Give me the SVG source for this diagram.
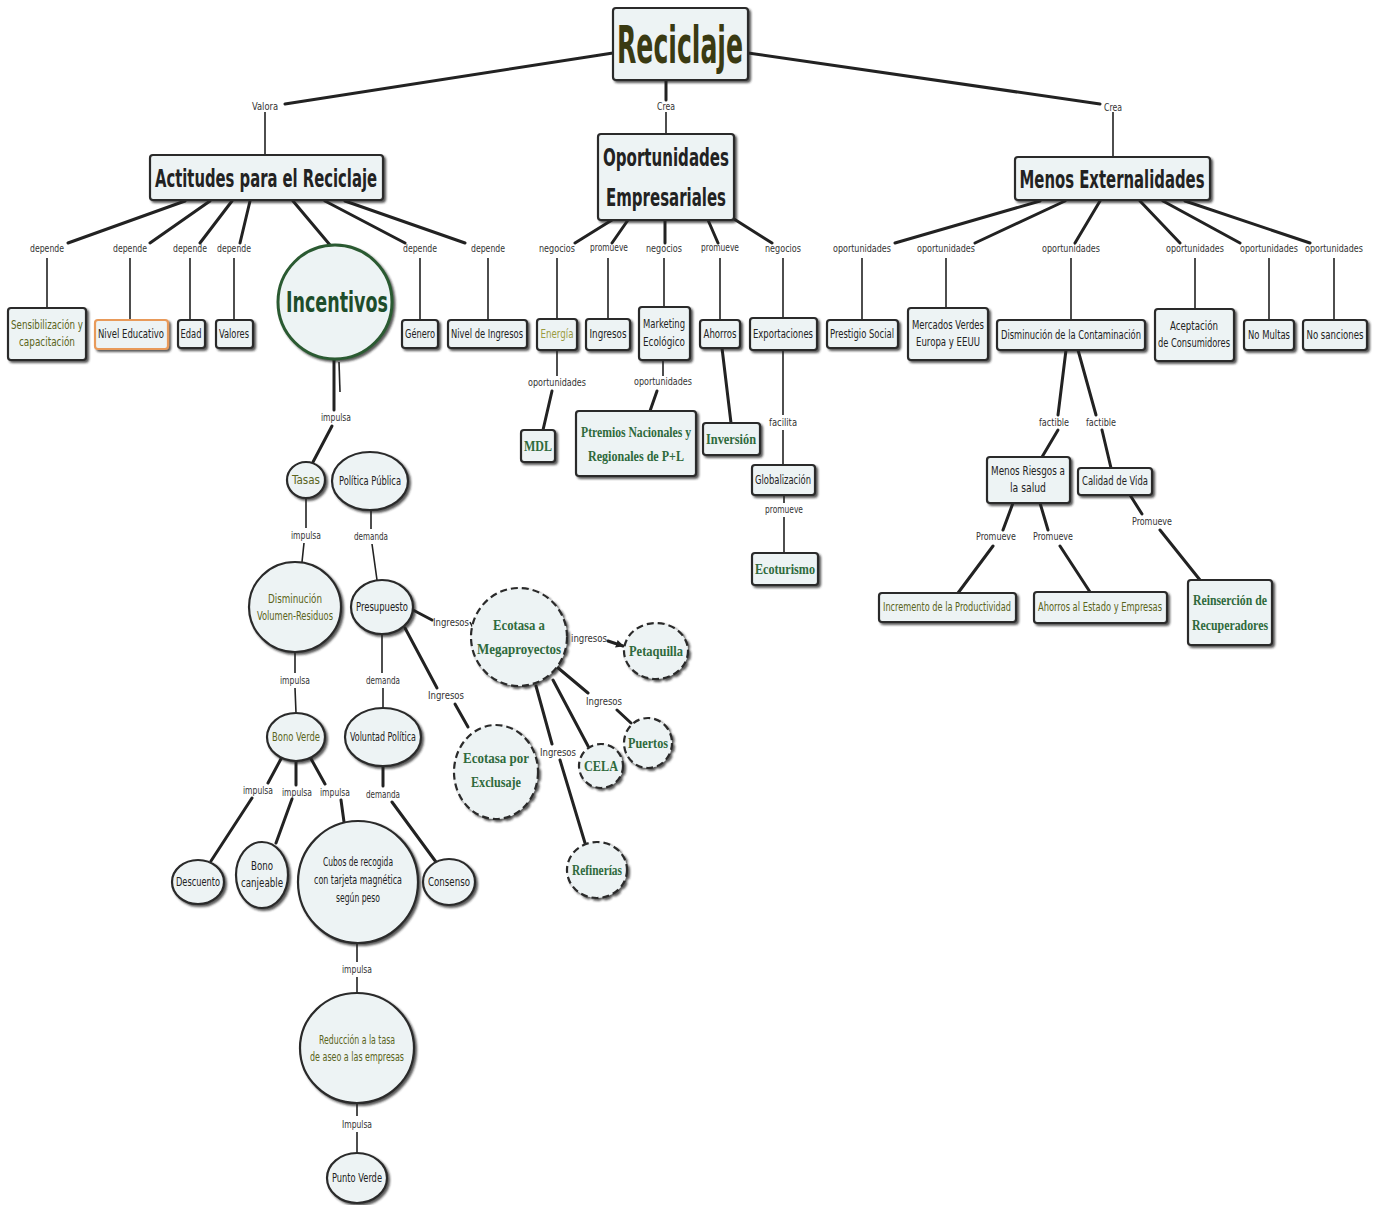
<svg xmlns="http://www.w3.org/2000/svg" width="1378" height="1205" viewBox="0 0 1378 1205">
<defs>
<filter id="sh" x="-20%" y="-20%" width="140%" height="140%"><feDropShadow dx="2" dy="2" stdDeviation="0.8" flood-color="#222" flood-opacity="0.75"/></filter>
<marker id="ar" markerWidth="8" markerHeight="8" refX="7" refY="4" orient="auto" markerUnits="userSpaceOnUse"><path d="M0,0 L8,4 L0,8 z" fill="#222"/></marker>
<style>
.n{fill:#edf3f4;stroke:#2a2a2a;stroke-width:2.2;filter:url(#sh)}
.d{stroke-dasharray:7 4}
.g{stroke:#2c5a30;stroke-width:3}
.o{stroke:#e89a5a}
.t{font-family:"DejaVu Sans Condensed","Liberation Sans",sans-serif;font-size:11.5px;fill:#222;text-anchor:middle}
.l{font-family:"DejaVu Sans Condensed","Liberation Sans",sans-serif;font-size:10.5px;fill:#333;text-anchor:middle}
.b{font-weight:bold}
.ol{fill:#5a6420}
.s{font-family:"Liberation Serif",serif;font-size:14px;font-weight:bold;fill:#2f6a3c;text-anchor:middle}
.k{stroke:#222;stroke-width:3;fill:none;stroke-linecap:round}
.h{stroke:#222;stroke-width:1.6;fill:none}
</style>
</defs>
<rect width="1378" height="1205" fill="#fff"/>

<g id="connectors">
<path class="k" d="M613,53 L285,104 M666,80 L666,100 M748,53 L1100,104"/>
<path class="h" d="M265,112 V155 M666,112 V134 M1113,112 V157"/>
<path class="k" d="M185,201 L68,243 M210,201 L150,243 M232,201 L200,243 M250,201 L240,243 M293,201 L330,245 M325,201 L405,243 M345,201 L465,243"/>
<path class="h" d="M47,258 V308 M130,258 V320 M190,258 V320 M234,258 V320 M420,258 V320 M488,258 V320"/>
<path class="k" d="M612,220 L575,243 M628,220 L612,243 M665,220 L665,243 M708,220 L718,243 M734,219 L772,243"/>
<path class="h" d="M557,258 V319 M608,258 V319 M664,258 V307 M720,258 V320 M783,258 V318"/>
<path class="h" d="M557,350 V376 M663,360 V376 M783,350 V415 M783,430 V465 M784,495 V503 M784,517 V553"/>
<path class="k" d="M552,391 L543,430 M657,391 L650,411 M722,348 L731,423"/>
<path class="k" d="M1040,201 L895,243 M1065,201 L975,243 M1100,201 L1075,243 M1140,201 L1180,243 M1163,201 L1240,243 M1185,201 L1310,243"/>
<path class="h" d="M862,258 V320 M946,258 V308 M1071,258 V320 M1195,258 V309 M1269,258 V320 M1334,258 V320"/>
<path class="k" d="M1066,350 L1058,415 M1058,430 L1042,457 M1078,350 L1096,415 M1102,430 L1111,468"/>
<path class="k" d="M1013,503 L1003,530 M993,546 L958,593 M1040,503 L1048,530 M1060,546 L1090,592 M1130,495 L1142,514 M1160,530 L1200,580"/>
<path class="k" d="M334,359 L334,410 M332,426 L313,462"/>
<path class="h" d="M339,362 L340,392"/>
<path class="h" d="M306,498 V528 M304,543 L302,562 M371,510 V529 M372,544 L377,580"/>
<path class="k" d="M413,610 L432,620 M405,628 L437,688 M455,704 L468,727"/>
<path class="h" d="M470,622 L473,628"/>
<path class="h" d="M295,652 V673 M295,688 L296,713 M382,634 V673 M383,688 V708"/>
<path class="k" d="M608,641 L623,646" marker-end="url(#ar)"/>
<path class="k" d="M557,667 L588,693 M617,710 L631,723 M553,680 L588,746 M536,686 L552,744 M560,760 L585,843"/>
<path class="k" d="M282,757 L268,783 M252,798 L211,861 M296,761 V785 M292,799 L276,843 M310,757 L325,784 M341,800 L344,822 M383,766 V786 M392,802 L436,862"/>
<path class="h" d="M357,943 V962 M357,977 V993 M357,1103 V1116 M357,1132 V1153"/>
</g>

<g id="labels">
<text class="l" x="265" y="110" textLength="26" lengthAdjust="spacingAndGlyphs">Valora</text>
<text class="l" x="666" y="110" textLength="18" lengthAdjust="spacingAndGlyphs">Crea</text>
<text class="l" x="1113" y="111" textLength="18" lengthAdjust="spacingAndGlyphs">Crea</text>
<text class="l" x="47" y="252" textLength="34" lengthAdjust="spacingAndGlyphs">depende</text>
<text class="l" x="130" y="252" textLength="34" lengthAdjust="spacingAndGlyphs">depende</text>
<text class="l" x="190" y="252" textLength="34" lengthAdjust="spacingAndGlyphs">depende</text>
<text class="l" x="234" y="252" textLength="34" lengthAdjust="spacingAndGlyphs">depende</text>
<text class="l" x="420" y="252" textLength="34" lengthAdjust="spacingAndGlyphs">depende</text>
<text class="l" x="488" y="252" textLength="34" lengthAdjust="spacingAndGlyphs">depende</text>
<text class="l" x="557" y="252" textLength="36" lengthAdjust="spacingAndGlyphs">negocios</text>
<text class="l" x="609" y="251" textLength="38" lengthAdjust="spacingAndGlyphs">promueve</text>
<text class="l" x="664" y="252" textLength="36" lengthAdjust="spacingAndGlyphs">negocios</text>
<text class="l" x="720" y="251" textLength="38" lengthAdjust="spacingAndGlyphs">promueve</text>
<text class="l" x="783" y="252" textLength="36" lengthAdjust="spacingAndGlyphs">negocios</text>
<text class="l" x="862" y="252" textLength="58" lengthAdjust="spacingAndGlyphs">oportunidades</text>
<text class="l" x="946" y="252" textLength="58" lengthAdjust="spacingAndGlyphs">oportunidades</text>
<text class="l" x="1071" y="252" textLength="58" lengthAdjust="spacingAndGlyphs">oportunidades</text>
<text class="l" x="1195" y="252" textLength="58" lengthAdjust="spacingAndGlyphs">oportunidades</text>
<text class="l" x="1269" y="252" textLength="58" lengthAdjust="spacingAndGlyphs">oportunidades</text>
<text class="l" x="1334" y="252" textLength="58" lengthAdjust="spacingAndGlyphs">oportunidades</text>
<text class="l" x="557" y="386" textLength="58" lengthAdjust="spacingAndGlyphs">oportunidades</text>
<text class="l" x="663" y="385" textLength="58" lengthAdjust="spacingAndGlyphs">oportunidades</text>
<text class="l" x="783" y="426" textLength="28" lengthAdjust="spacingAndGlyphs">facilita</text>
<text class="l" x="784" y="513" textLength="38" lengthAdjust="spacingAndGlyphs">promueve</text>
<text class="l" x="1054" y="426" textLength="30" lengthAdjust="spacingAndGlyphs">factible</text>
<text class="l" x="1101" y="426" textLength="30" lengthAdjust="spacingAndGlyphs">factible</text>
<text class="l" x="996" y="540" textLength="40" lengthAdjust="spacingAndGlyphs">Promueve</text>
<text class="l" x="1053" y="540" textLength="40" lengthAdjust="spacingAndGlyphs">Promueve</text>
<text class="l" x="1152" y="525" textLength="40" lengthAdjust="spacingAndGlyphs">Promueve</text>
<text class="l" x="336" y="421" textLength="30" lengthAdjust="spacingAndGlyphs">impulsa</text>
<text class="l" x="306" y="539" textLength="30" lengthAdjust="spacingAndGlyphs">impulsa</text>
<text class="l" x="371" y="540" textLength="34" lengthAdjust="spacingAndGlyphs">demanda</text>
<text class="l" x="451" y="626" textLength="36" lengthAdjust="spacingAndGlyphs">Ingresos</text>
<text class="l" x="295" y="684" textLength="30" lengthAdjust="spacingAndGlyphs">impulsa</text>
<text class="l" x="383" y="684" textLength="34" lengthAdjust="spacingAndGlyphs">demanda</text>
<text class="l" x="446" y="699" textLength="36" lengthAdjust="spacingAndGlyphs">Ingresos</text>
<text class="l" x="589" y="642" textLength="36" lengthAdjust="spacingAndGlyphs">ingresos</text>
<text class="l" x="604" y="705" textLength="36" lengthAdjust="spacingAndGlyphs">Ingresos</text>
<text class="l" x="558" y="756" textLength="36" lengthAdjust="spacingAndGlyphs">Ingresos</text>
<text class="l" x="258" y="794" textLength="30" lengthAdjust="spacingAndGlyphs">impulsa</text>
<text class="l" x="297" y="796" textLength="30" lengthAdjust="spacingAndGlyphs">impulsa</text>
<text class="l" x="335" y="796" textLength="30" lengthAdjust="spacingAndGlyphs">impulsa</text>
<text class="l" x="383" y="798" textLength="34" lengthAdjust="spacingAndGlyphs">demanda</text>
<text class="l" x="357" y="973" textLength="30" lengthAdjust="spacingAndGlyphs">impulsa</text>
<text class="l" x="357" y="1128" textLength="30" lengthAdjust="spacingAndGlyphs">Impulsa</text>
</g>

<g id="reciclaje"><rect class="n" x="613" y="8" width="135" height="72" rx="3"/><text class="t b" x="680" y="63" textLength="126" lengthAdjust="spacingAndGlyphs" style="font-size:52px;fill:#3a3a12">Reciclaje</text></g>
<g id="actitudes"><rect class="n" x="150" y="155" width="233" height="45" rx="3"/><text class="t b" x="266" y="187" textLength="222" lengthAdjust="spacingAndGlyphs" style="font-size:24px">Actitudes para el Reciclaje</text></g>
<g id="oportunidades"><rect class="n" x="598" y="134" width="136" height="86" rx="3"/><text class="t b" x="666" y="166" textLength="126" lengthAdjust="spacingAndGlyphs" style="font-size:24px">Oportunidades</text><text class="t b" x="666" y="206" textLength="120" lengthAdjust="spacingAndGlyphs" style="font-size:24px">Empresariales</text></g>
<g id="menos-ext"><rect class="n" x="1015" y="157" width="195" height="43" rx="3"/><text class="t b" x="1112" y="188" textLength="185" lengthAdjust="spacingAndGlyphs" style="font-size:24px">Menos Externalidades</text></g>

<g id="sensibilizacion"><rect class="n" x="8" y="308" width="78" height="52" rx="3"/><text class="t ol" x="47" y="329" textLength="72" lengthAdjust="spacingAndGlyphs">Sensibilización y</text><text class="t ol" x="47" y="346" textLength="56" lengthAdjust="spacingAndGlyphs">capacitación</text></g>
<g id="nivel-educativo"><rect class="n o" x="95" y="320" width="73" height="29" rx="3"/><text class="t" x="131" y="338" textLength="66" lengthAdjust="spacingAndGlyphs">Nivel Educativo</text></g>
<g id="edad"><rect class="n" x="178" y="320" width="27" height="28" rx="3"/><text class="t" x="191" y="338" textLength="21" lengthAdjust="spacingAndGlyphs">Edad</text></g>
<g id="valores"><rect class="n" x="216" y="320" width="37" height="28" rx="3"/><text class="t" x="234" y="338" textLength="30" lengthAdjust="spacingAndGlyphs">Valores</text></g>
<g id="incentivos"><circle class="n g" cx="335" cy="302" r="57"/><text class="t b" x="337" y="312" textLength="102" lengthAdjust="spacingAndGlyphs" style="font-size:28px;fill:#1e4d2b">Incentivos</text></g>
<g id="genero"><rect class="n" x="402" y="320" width="36" height="28" rx="3"/><text class="t" x="420" y="338" textLength="30" lengthAdjust="spacingAndGlyphs">Género</text></g>
<g id="nivel-ingresos"><rect class="n" x="448" y="320" width="79" height="28" rx="3"/><text class="t" x="487" y="338" textLength="72" lengthAdjust="spacingAndGlyphs">Nivel de Ingresos</text></g>

<g id="energia"><rect class="n" x="537" y="319" width="40" height="31" rx="3"/><text class="t" x="557" y="338" textLength="33" lengthAdjust="spacingAndGlyphs" style="fill:#9a9a40">Energía</text></g>
<g id="ingresos"><rect class="n" x="586" y="319" width="44" height="31" rx="3"/><text class="t" x="608" y="338" textLength="37" lengthAdjust="spacingAndGlyphs">Ingresos</text></g>
<g id="marketing"><rect class="n" x="639" y="307" width="51" height="53" rx="3"/><text class="t" x="664" y="328" textLength="42" lengthAdjust="spacingAndGlyphs">Marketing</text><text class="t" x="664" y="346" textLength="42" lengthAdjust="spacingAndGlyphs">Ecológico</text></g>
<g id="ahorros"><rect class="n" x="700" y="320" width="40" height="28" rx="3"/><text class="t" x="720" y="338" textLength="33" lengthAdjust="spacingAndGlyphs">Ahorros</text></g>
<g id="exportaciones"><rect class="n" x="750" y="318" width="67" height="32" rx="3"/><text class="t" x="783" y="338" textLength="60" lengthAdjust="spacingAndGlyphs">Exportaciones</text></g>
<g id="mdl"><rect class="n" x="521" y="430" width="34" height="32" rx="3"/><text class="s" x="538" y="451" textLength="28" lengthAdjust="spacingAndGlyphs">MDL</text></g>
<g id="ptremios"><rect class="n" x="576" y="411" width="120" height="65" rx="3"/><text class="s" x="636" y="437" textLength="110" lengthAdjust="spacingAndGlyphs">Ptremios Nacionales y</text><text class="s" x="636" y="461" textLength="96" lengthAdjust="spacingAndGlyphs">Regionales de P+L</text></g>
<g id="inversion"><rect class="n" x="703" y="423" width="57" height="32" rx="3"/><text class="s" x="731" y="444" textLength="50" lengthAdjust="spacingAndGlyphs">Inversión</text></g>
<g id="globalizacion"><rect class="n" x="752" y="465" width="63" height="30" rx="3"/><text class="t" x="783" y="484" textLength="56" lengthAdjust="spacingAndGlyphs">Globalización</text></g>
<g id="ecoturismo"><rect class="n" x="752" y="553" width="66" height="32" rx="3"/><text class="s" x="785" y="574" textLength="60" lengthAdjust="spacingAndGlyphs">Ecoturismo</text></g>

<g id="prestigio"><rect class="n" x="827" y="320" width="71" height="28" rx="3"/><text class="t" x="862" y="338" textLength="64" lengthAdjust="spacingAndGlyphs">Prestigio Social</text></g>
<g id="mercados"><rect class="n" x="908" y="308" width="80" height="52" rx="3"/><text class="t" x="948" y="329" textLength="72" lengthAdjust="spacingAndGlyphs">Mercados Verdes</text><text class="t" x="948" y="346" textLength="64" lengthAdjust="spacingAndGlyphs">Europa y EEUU</text></g>
<g id="dism-contaminacion"><rect class="n" x="997" y="320" width="148" height="30" rx="3"/><text class="t" x="1071" y="339" textLength="140" lengthAdjust="spacingAndGlyphs">Disminución de la Contaminación</text></g>
<g id="aceptacion"><rect class="n" x="1155" y="309" width="79" height="52" rx="3"/><text class="t" x="1194" y="330" textLength="48" lengthAdjust="spacingAndGlyphs">Aceptación</text><text class="t" x="1194" y="347" textLength="72" lengthAdjust="spacingAndGlyphs">de Consumidores</text></g>
<g id="no-multas"><rect class="n" x="1244" y="320" width="50" height="30" rx="3"/><text class="t" x="1269" y="339" textLength="42" lengthAdjust="spacingAndGlyphs">No Multas</text></g>
<g id="no-sanciones"><rect class="n" x="1303" y="320" width="64" height="30" rx="3"/><text class="t" x="1335" y="339" textLength="57" lengthAdjust="spacingAndGlyphs">No sanciones</text></g>
<g id="menos-riesgos"><rect class="n" x="987" y="457" width="83" height="46" rx="3"/><text class="t" x="1028" y="475" textLength="74" lengthAdjust="spacingAndGlyphs">Menos Riesgos a</text><text class="t" x="1028" y="492" textLength="36" lengthAdjust="spacingAndGlyphs">la salud</text></g>
<g id="calidad"><rect class="n" x="1078" y="468" width="74" height="27" rx="3"/><text class="t" x="1115" y="485" textLength="66" lengthAdjust="spacingAndGlyphs">Calidad de Vida</text></g>
<g id="incremento"><rect class="n" x="879" y="593" width="137" height="29" rx="3"/><text class="t ol" x="947" y="611" textLength="128" lengthAdjust="spacingAndGlyphs">Incremento de la Productividad</text></g>
<g id="ahorros-estado"><rect class="n" x="1034" y="592" width="133" height="31" rx="3"/><text class="t ol" x="1100" y="611" textLength="124" lengthAdjust="spacingAndGlyphs">Ahorros al Estado y Empresas</text></g>
<g id="reinsercion"><rect class="n" x="1188" y="580" width="84" height="65" rx="3"/><text class="s" x="1230" y="605" textLength="74" lengthAdjust="spacingAndGlyphs" style="font-size:15px">Reinserción de</text><text class="s" x="1230" y="630" textLength="76" lengthAdjust="spacingAndGlyphs" style="font-size:15px">Recuperadores</text></g>

<g id="tasas"><ellipse class="n" cx="306" cy="480" rx="19" ry="18"/><text class="t ol" x="306" y="484" textLength="28" lengthAdjust="spacingAndGlyphs">Tasas</text></g>
<g id="politica"><ellipse class="n" cx="370" cy="481" rx="38" ry="29"/><text class="t" x="370" y="485" textLength="62" lengthAdjust="spacingAndGlyphs">Política Pública</text></g>
<g id="dism-volumen"><ellipse class="n" cx="295" cy="607" rx="46" ry="45"/><text class="t ol" x="295" y="603" textLength="54" lengthAdjust="spacingAndGlyphs">Disminución</text><text class="t ol" x="295" y="620" textLength="76" lengthAdjust="spacingAndGlyphs">Volumen-Residuos</text></g>
<g id="presupuesto"><ellipse class="n" cx="382" cy="607" rx="31" ry="27"/><text class="t" x="382" y="611" textLength="52" lengthAdjust="spacingAndGlyphs">Presupuesto</text></g>
<g id="bono-verde"><ellipse class="n" cx="296" cy="737" rx="29" ry="24"/><text class="t ol" x="296" y="741" textLength="48" lengthAdjust="spacingAndGlyphs">Bono Verde</text></g>
<g id="voluntad"><ellipse class="n" cx="383" cy="737" rx="38" ry="29"/><text class="t" x="383" y="741" textLength="66" lengthAdjust="spacingAndGlyphs">Voluntad Política</text></g>
<g id="megaproyectos"><ellipse class="n d" cx="519" cy="637" rx="48" ry="49"/><text class="s" x="519" y="630" textLength="52" lengthAdjust="spacingAndGlyphs">Ecotasa a</text><text class="s" x="519" y="654" textLength="84" lengthAdjust="spacingAndGlyphs">Megaproyectos</text></g>
<g id="exclusaje"><ellipse class="n d" cx="496" cy="772" rx="42" ry="47"/><text class="s" x="496" y="763" textLength="66" lengthAdjust="spacingAndGlyphs">Ecotasa  por</text><text class="s" x="496" y="787" textLength="50" lengthAdjust="spacingAndGlyphs">Exclusaje</text></g>
<g id="petaquilla"><ellipse class="n d" cx="656" cy="651" rx="32" ry="28"/><text class="s" x="656" y="656" textLength="54" lengthAdjust="spacingAndGlyphs">Petaquilla</text></g>
<g id="puertos"><ellipse class="n d" cx="648" cy="743" rx="24" ry="25"/><text class="s" x="648" y="748" textLength="40" lengthAdjust="spacingAndGlyphs">Puertos</text></g>
<g id="cela"><ellipse class="n d" cx="601" cy="766" rx="22" ry="22"/><text class="s" x="601" y="771" textLength="34" lengthAdjust="spacingAndGlyphs">CELA</text></g>
<g id="refinerias"><ellipse class="n d" cx="597" cy="870" rx="30" ry="28"/><text class="s" x="597" y="875" textLength="50" lengthAdjust="spacingAndGlyphs">Refinerías</text></g>
<g id="descuento"><ellipse class="n" cx="198" cy="882" rx="26" ry="22"/><text class="t" x="198" y="886" textLength="44" lengthAdjust="spacingAndGlyphs">Descuento</text></g>
<g id="bono-canjeable"><ellipse class="n" cx="262" cy="875" rx="26" ry="33"/><text class="t" x="262" y="870" textLength="22" lengthAdjust="spacingAndGlyphs">Bono</text><text class="t" x="262" y="887" textLength="42" lengthAdjust="spacingAndGlyphs">canjeable</text></g>
<g id="cubos"><ellipse class="n" cx="358" cy="882" rx="60" ry="61"/><text class="t" x="358" y="866" textLength="70" lengthAdjust="spacingAndGlyphs">Cubos de recogida</text><text class="t" x="358" y="884" textLength="88" lengthAdjust="spacingAndGlyphs">con tarjeta magnética</text><text class="t" x="358" y="902" textLength="44" lengthAdjust="spacingAndGlyphs">según peso</text></g>
<g id="consenso"><ellipse class="n" cx="449" cy="882" rx="26" ry="23"/><text class="t" x="449" y="886" textLength="42" lengthAdjust="spacingAndGlyphs">Consenso</text></g>
<g id="reduccion"><ellipse class="n" cx="357" cy="1048" rx="57" ry="55"/><text class="t ol" x="357" y="1044" textLength="76" lengthAdjust="spacingAndGlyphs">Reducción a la tasa</text><text class="t ol" x="357" y="1061" textLength="94" lengthAdjust="spacingAndGlyphs">de aseo a las empresas</text></g>
<g id="punto-verde"><ellipse class="n" cx="357" cy="1178" rx="30" ry="25"/><text class="t" x="357" y="1182" textLength="50" lengthAdjust="spacingAndGlyphs">Punto Verde</text></g>
</svg>
